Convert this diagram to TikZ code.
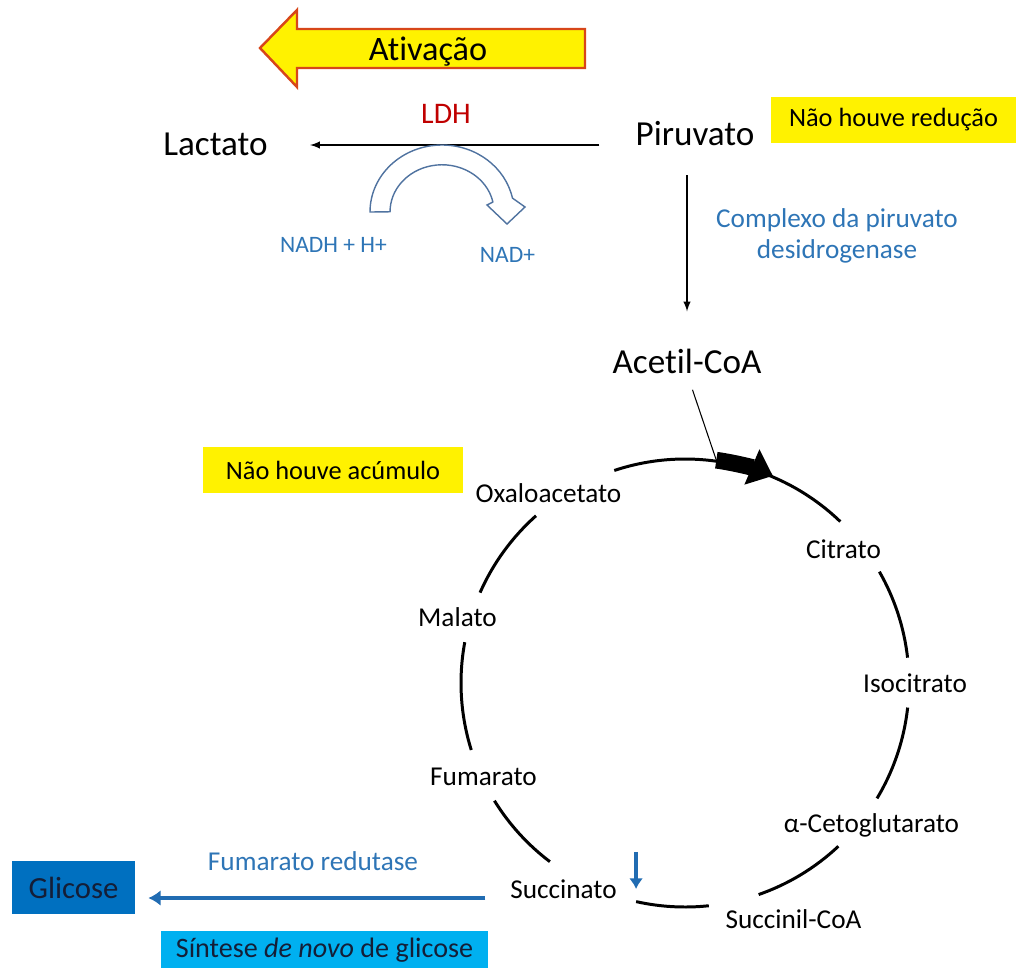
\documentclass[tikz,border=0pt]{standalone}
\usepackage{fontspec}
\setmainfont{Carlito}[Ligatures={NoCommon,NoRequired,NoContextual}]
\usetikzlibrary{positioning, calc, arrows.meta}

\definecolor{enzblue}{RGB}{46,117,182}
\definecolor{arrblue}{RGB}{33,108,178}
\definecolor{ldhred}{RGB}{192,0,0}
\definecolor{glcblue}{RGB}{0,112,192}
\definecolor{denovo}{RGB}{0,176,240}
\definecolor{actorange}{RGB}{215,70,25}
\definecolor{hollow}{RGB}{80,115,160}
\definecolor{boxtext}{RGB}{20,30,55}

\begin{document}
\begin{tikzpicture}[x=0.02cm, y=0.02cm,
	met/.style={inner sep=0pt, anchor=base, font=\fontsize{20}{24}\selectfont},
	cyc/.style={inner sep=0pt, anchor=base, font=\fontsize{15.5}{18}\selectfont},
	enz/.style={inner sep=0pt, text=enzblue, font=\fontsize{15.5}{17.6}\selectfont},
	note/.style={fill=yellow, minimum height=26pt, inner sep=0pt, font=\fontsize{15}{18}\selectfont},
	ring/.style={line width=1.7pt},
	thinarr/.style={-latex, line width=0.9pt},
	bluearr/.style={-{Latex[length=7pt,width=9pt]}, line width=2.2pt, draw=arrblue}
	]
	\useasboundingbox (0,0) rectangle (1016,-967);

	% activation arrow
	\draw[fill=yellow, draw=actorange, line width=1.4pt, line join=miter]
	(260,-48) -- (297,-10) -- (297,-29) -- (585,-29) -- (585,-68)
	-- (297,-68) -- (297,-87) -- cycle;
	\node[met, font=\fontsize{19.5}{23}\selectfont] (ativ) at (428,-60) {Ativação};

	% pyruvate branch
	\node[met] (piruvato) at (695,-145) {Piruvato};
	\node[met] (lactato) at (215.5,-155) {Lactato};
	\node[met] (acetil) at (687,-373) {Acet\kern0pt il-CoA};
	\node[inner sep=0pt, anchor=base, text=ldhred, font=\fontsize{17}{20}\selectfont] (ldh) at (446,-123) {LDH};
	\node[enz, anchor=base, font=\fontsize{13.4}{16}\selectfont] (nadh) at (333.5,-252) {NADH + H+};
	\node[enz, anchor=base, font=\fontsize{13.4}{16}\selectfont] (nad) at (507.5,-262) {NAD+};
	\node[enz, align=center] (pdh) at (837,-236) {Complexo da piruvato\\desidrogenase};
	\node[note, minimum width=139.5pt] (reducao) at (893.5,-120) {Não houve redução};

	\draw[thinarr, shorten <=20.5pt, shorten >=24pt] (piruvato.base west) -- (piruvato.base west -| lactato.east);
	\draw[thinarr, shorten <=17pt, shorten >=21pt] (piruvato.south -| acetil.north) -- (acetil.north);

	\draw[draw=hollow, fill=white, line width=0.8pt]
	(370,-212) arc[start angle=180, end angle=12, x radius=72, y radius=67]
	-- (525,-207) -- (507,-224) -- (487,-205) -- (492.9,-202)
	arc[start angle=12, end angle=180, x radius=52, y radius=47] -- cycle;

	% cycle
	\foreach \a/\b in {108.4/46.1, 29.8/6.5, -6.3/-31, -46.8/-70.8, -83.9/-102.6, -127.1/-148.3, -162.6/-190.5, 156.2/131.7}
	\draw[ring] (685,-683) ++(\a:224) arc[start angle=\a, end angle=\b, radius=224];

	\node[cyc] (oxalo) at (548.5,-502) {Oxaloacetato};
	\node[cyc] (citrato) at (843.5,-558) {Citrato};
	\node[cyc] (isocit) at (915,-692) {Isocitrato};
	\node[cyc] (ceto) at (871.5,-832) {α-Cetoglutarato};
	\node[cyc] (succoa) at (793.5,-928) {Succinil-CoA};
	\node[cyc] (succ) at (563.5,-898) {Succinato};
	\node[cyc] (fum) at (483.5,-785) {Fumarato};
	\node[cyc] (malato) at (457.5,-626) {Malato};
	\node[note, minimum width=148pt] (acumulo) at (333,-470) {Não houve acúmulo};

	\path (685,-683) ++(82:225) coordinate (tca);
	\draw[line width=0.6pt, shorten <=9.7pt] (acetil.south) -- (tca);
	\draw[line width=9.5pt, -{Triangle[length=13pt,width=21pt]}] (tca) arc[start angle=82, end angle=67, radius=225];

	% glucose
	\node[fill=glcblue, minimum width=70pt, minimum height=30pt, inner sep=0pt, text=boxtext,
		font=\fontsize{17.5}{21}\selectfont] (glicose) at (73.5,-887.5) {Glicose};
	\node[fill=denovo, minimum width=186pt, minimum height=21.6pt, inner sep=0pt, text=boxtext,
		font=\fontsize{16}{19}\selectfont] (sintese) at (324.5,-950) {Síntese \textit{de novo} de glicose};
	\node[enz, anchor=base] (fr) at (313,-870) {Fumarato redutase};

	\draw[bluearr, shorten <=14pt, shorten >=7.4pt] (succ.base west) -- (succ.base west -| glicose.east);
	\path (succ.north east) ++(19,27) coordinate (sdown);
	\draw[bluearr, -{Latex[length=6pt,width=8pt]}] (sdown) -- ++(0,-37);
\end{tikzpicture}
\end{document}
